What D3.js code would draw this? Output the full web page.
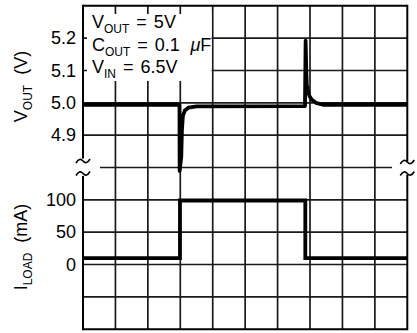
<!DOCTYPE html>
<html><head><meta charset="utf-8">
<script src="https://cdn.jsdelivr.net/npm/d3@7"></script>
<style>
html,body{margin:0;padding:0;background:#fff;}
svg{display:block;}
text{font-family:"Liberation Sans",Arial,sans-serif;fill:#000;}
</style></head>
<body>
<svg id="c" width="417" height="333"></svg>
<script>
// ---- data ----
const timeDivs = d3.range(0, 11);               // time axis, in divisions (no labels)
const vTicks = [4.9, 5.0, 5.1, 5.2];
const iTicks = [0, 50, 100];
const vGrid = [4.9, 5.0, 5.1, 5.2];
const iGrid = [-50, 0, 50, 100];
const vTime = [0, 2.975, 2.98, 3.03, 3.05, 3.08, 3.14, 3.25, 3.5, 6.845, 6.865, 6.885, 6.9, 6.94, 6.98, 7.05, 7.18, 7.4, 10];
const vOut  = [4.994, 4.994, 4.789, 4.833, 4.914, 4.96, 4.976, 4.985, 4.989, 4.990, 5.192, 5.10, 5.055, 5.035, 5.022, 5.01, 5.0, 4.994, 4.994];
const iTime = [0, 2.99, 2.99, 6.855, 6.855, 10];
const iLoad = [10, 10, 99, 99, 10, 10];
// [main, subscript, rest, italic part, tail]
const legendLines = [
  ["V", "OUT", " =\u00a05V", "", ""],
  ["C", "OUT", " = 0.1\u2009 ", "\u03bc", "F"],
  ["V", "IN",  " =\u00a06.5V", "", ""]
];

// ---- layout ----
const L = 83, R = 407.3, T = 5.8, B = 329.2, MID = 167.5;
const svg = d3.select("#c");
const x = d3.scaleLinear().domain([0, 10]).range([L, R]);
const yV = d3.scaleLinear().domain([4.8, 5.3]).range([MID, T]);
const yI = d3.scaleLinear().domain([-100, 150]).range([B, MID]);
const gridStroke = "#1a1a1a", gw = 1.7;

// vertical gridlines
svg.append("g").selectAll("line").data(timeDivs.slice(1, 10)).join("line")
  .attr("x1", d => x(d)).attr("x2", d => x(d)).attr("y1", T).attr("y2", B)
  .attr("stroke", gridStroke).attr("stroke-width", gw);
// horizontal gridlines
svg.append("g").selectAll("line").data(vGrid).join("line")
  .attr("x1", L).attr("x2", R).attr("y1", d => yV(d)).attr("y2", d => yV(d))
  .attr("stroke", gridStroke).attr("stroke-width", gw);
svg.append("g").selectAll("line").data(iGrid).join("line")
  .attr("x1", L).attr("x2", R).attr("y1", d => yI(d)).attr("y2", d => yI(d))
  .attr("stroke", gridStroke).attr("stroke-width", gw);
// break line
svg.append("line").attr("x1", 100).attr("x2", 392).attr("y1", yV(4.8)).attr("y2", yV(4.8))
  .attr("stroke", gridStroke).attr("stroke-width", gw);

// legend box (white knockout)
svg.append("rect").attr("x", 87).attr("y", 14).attr("width", 124.5).attr("height", 67).attr("fill", "#fff");

// frame
const fw = 2;
svg.append("line").attr("x1", L).attr("x2", R).attr("y1", T).attr("y2", T).attr("stroke", "#000").attr("stroke-width", fw);
svg.append("line").attr("x1", L).attr("x2", R).attr("y1", B).attr("y2", B).attr("stroke", "#000").attr("stroke-width", fw);
function vseg(xx, y1, y2){ svg.append("line").attr("x1", xx).attr("x2", xx).attr("y1", y1).attr("y2", y2).attr("stroke", "#000").attr("stroke-width", fw); }
vseg(L, T - 1, 158.5); vseg(L, 176, B + 1);
vseg(R, T - 1, 161.5); vseg(R, 174.5, B + 1);
function squig(cx, cy){
  svg.append("path").attr("d", `M${cx-7},${cy+2} Q${cx-3.5},${cy-4} ${cx},${cy} Q${cx+3.5},${cy+4} ${cx+7},${cy-2}`)
    .attr("fill", "none").attr("stroke", "#000").attr("stroke-width", 1.6);
}
squig(L, 161); squig(L, 173.5); squig(R, 162); squig(R, 173.5);

// data lines
const lineV = d3.line().x((d, i) => x(vTime[i])).y(d => yV(d));
const lineI = d3.line().x((d, i) => x(iTime[i])).y(d => yI(d));
svg.append("path").attr("d", lineV(vOut)).attr("fill", "none").attr("stroke", "#000")
  .attr("stroke-width", 3.8).attr("stroke-linejoin", "round");
svg.append("path").attr("d", lineI(iLoad)).attr("fill", "none").attr("stroke", "#000")
  .attr("stroke-width", 3.8).attr("stroke-linejoin", "miter");

// tick labels
const axV = d3.axisLeft(yV).tickValues(vTicks).tickSize(0).tickPadding(7).tickFormat(d3.format(".1f"));
const axI = d3.axisLeft(yI).tickValues(iTicks).tickSize(0).tickPadding(7).tickFormat(d3.format("d"));
[axV, axI].forEach(ax => {
  const g = svg.append("g").attr("transform", `translate(${L},0)`).call(ax);
  g.select(".domain").remove();
  g.selectAll("text").attr("font-size", 18).attr("font-family", '"Liberation Sans",Arial,sans-serif').attr("fill", "#000");
});

// legend text
legendLines.forEach((ln, k) => {
  const t = svg.append("text").attr("x", 92).attr("y", 28.3 + k * 22.4).attr("font-size", 18)
    .style("word-spacing", "2px").style("white-space", "pre");
  t.append("tspan").text(ln[0]);
  t.append("tspan").attr("font-size", 12).attr("dy", 5).text(ln[1]);
  t.append("tspan").attr("dy", -5).text(ln[2]);
  if (ln[3]) t.append("tspan").attr("font-style", "italic").text(ln[3]);
  if (ln[4]) t.append("tspan").text(ln[4]);
});

// axis titles
function title(cy, main, sub, rest){
  const t = svg.append("text").attr("transform", `translate(27,${cy}) rotate(-90)`)
    .attr("text-anchor", "middle").attr("font-size", 18).style("white-space", "pre");
  t.append("tspan").text(main);
  t.append("tspan").attr("font-size", 12).attr("dy", 5).text(sub);
  t.append("tspan").attr("dy", -5).text(rest);
}
title(86.5, "V", "OUT", "\u00a0\u00a0(V)");
title(247, "I", "LOAD", "\u00a0\u00a0(mA)");
</script>
</body></html>
